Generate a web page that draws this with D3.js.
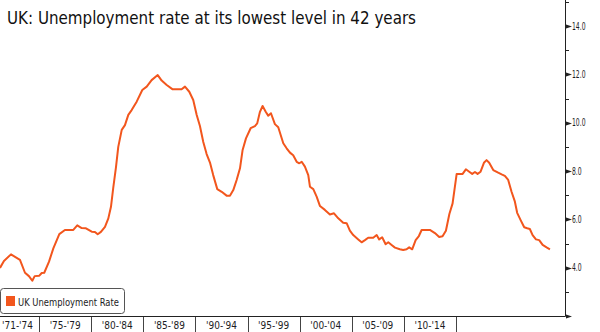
<!DOCTYPE html>
<html>
<head>
<meta charset="utf-8">
<script src="https://cdn.jsdelivr.net/npm/d3@7"></script>
<style>
  html, body { margin: 0; padding: 0; background: #fff; }
  svg { display: block; }
  text { font-family: "DejaVu Sans", "Liberation Sans", sans-serif; }
</style>
</head>
<body>
<svg id="chart" width="600" height="332"></svg>
<script>
// ---- data ----
const title = "UK: Unemployment rate at its lowest level in 42 years";
const seriesName = "UK Unemployment Rate";
const periodLabels = ["'71-'74", "'75-'79", "'80-'84", "'85-'89", "'90-'94", "'95-'99", "'00-'04", "'05-'09", "'10-'14"];
const yTickValues = [4, 6, 8, 10, 12, 14];
const yMinorValues = [3, 5, 7, 9, 11, 13, 15];
const years = [
  1971.00, 1971.33, 1971.92, 1972.67, 1973.09, 1973.42, 1973.70, 1973.90, 1974.29, 1974.49,
  1974.70, 1975.10, 1975.46, 1975.96, 1976.43, 1977.13, 1977.46, 1977.83, 1978.19, 1978.67,
  1978.94, 1979.17, 1979.44, 1979.78, 1980.06, 1980.28, 1980.47, 1980.70, 1980.89, 1981.18,
  1981.45, 1981.73, 1982.01, 1982.43, 1982.90, 1983.27, 1983.68, 1984.19, 1984.52, 1984.94,
  1985.44, 1986.19, 1986.47, 1986.83, 1987.16, 1987.45, 1987.72, 1988.00, 1988.28, 1988.56,
  1988.83, 1989.17, 1989.54, 1989.95, 1990.23, 1990.51, 1990.79, 1991.07, 1991.29, 1991.57,
  1991.96, 1992.32, 1992.51, 1992.74, 1992.96, 1993.22, 1993.43, 1993.66, 1993.99, 1994.27,
  1994.69, 1994.97, 1995.25, 1995.52, 1995.81, 1996.03, 1996.23, 1996.50, 1996.78, 1996.92,
  1997.20, 1997.48, 1997.76, 1998.17, 1998.59, 1998.93, 1999.29, 1999.70, 1999.99, 2000.26,
  2000.54, 2000.96, 2001.24, 2001.52, 2001.79, 2002.21, 2002.50, 2002.71, 2002.96, 2003.25,
  2003.47, 2003.75, 2004.03, 2004.44, 2004.72, 2005.00, 2005.22, 2005.47, 2005.76, 2006.03,
  2006.26, 2006.95, 2007.37, 2007.73, 2008.01, 2008.29, 2008.58, 2008.85, 2009.19, 2009.69,
  2009.96, 2010.24, 2010.49, 2010.72, 2010.94, 2011.19, 2011.47, 2011.69, 2011.91, 2012.25,
  2012.66, 2012.95, 2013.22, 2013.50, 2013.78, 2014.06, 2014.25, 2014.54, 2014.84, 2015.09,
  2015.31, 2015.54, 2015.82, 2016.09, 2016.38, 2016.71, 2016.99
];
const rates = [
  3.99, 4.28, 4.55, 4.32, 3.79, 3.65, 3.46, 3.65, 3.67, 3.78,
  3.79, 4.25, 4.80, 5.39, 5.56, 5.56, 5.75, 5.64, 5.63, 5.49,
  5.48, 5.38, 5.48, 5.69, 6.04, 6.52, 7.30, 8.16, 9.00, 9.70,
  9.90, 10.32, 10.52, 10.87, 11.35, 11.49, 11.76, 11.97, 11.74, 11.56,
  11.38, 11.38, 11.49, 11.28, 10.94, 10.32, 9.86, 9.20, 8.70, 8.35,
  7.83, 7.25, 7.14, 6.98, 6.98, 7.21, 7.63, 8.11, 8.87, 9.35,
  9.77, 9.86, 9.97, 10.45, 10.69, 10.45, 10.29, 10.39, 9.94, 9.81,
  9.15, 8.94, 8.76, 8.65, 8.38, 8.32, 8.38, 8.18, 7.83, 7.35,
  7.25, 6.94, 6.55, 6.39, 6.20, 6.25, 6.04, 5.86, 5.84, 5.53,
  5.35, 5.17, 5.05, 5.14, 5.24, 5.24, 5.35, 5.17, 5.26, 4.97,
  5.05, 4.94, 4.83, 4.76, 4.73, 4.76, 4.84, 4.76, 5.14, 5.31,
  5.56, 5.56, 5.43, 5.27, 5.30, 5.53, 6.22, 6.66, 7.88, 7.88,
  8.07, 7.97, 7.88, 7.96, 7.88, 7.97, 8.34, 8.45, 8.34, 8.04,
  7.93, 7.86, 7.80, 7.63, 7.14, 6.73, 6.27, 5.97, 5.67, 5.63,
  5.60, 5.35, 5.17, 5.14, 4.94, 4.84, 4.76
];

// ---- layout ----
const W = 600, H = 332;
const axisX = 565, axisBottom = 316;
const lineColor = "#F2561D";
const textColor = "#1c1c24";

// squeeze a text element horizontally to a given width (keeps glyph height)
function fitWidth(node, target) {
  node.setAttribute("textLength", target);
  node.setAttribute("lengthAdjust", "spacingAndGlyphs");
}

const svg = d3.select("#chart");
svg.append("rect").attr("width", W).attr("height", H).attr("fill", "#fff");

const x = d3.scaleLinear().domain([1971, 2018.25]).range([0, axisX]);
const y = d3.scaleLinear().domain([2, 14]).range([axisBottom, 26]);
const band = d3.scaleBand().domain(periodLabels).range([-13, 456]).padding(0);

// title
svg.append("text")
  .attr("x", 7).attr("y", 24)
  .attr("font-size", 18.5)
  .attr("fill", "#111")
  .text(title)
  .each(function() { fitWidth(this, 409); });

// line
const data = years.map((yr, i) => ({ yr, v: rates[i] }));
svg.append("path")
  .datum(data)
  .attr("fill", "none")
  .attr("stroke", lineColor)
  .attr("stroke-width", 2)
  .attr("stroke-linejoin", "round")
  .attr("d", d3.line().x(d => x(d.yr)).y(d => y(d.v)));

// right axis
const ax = svg.append("g");
ax.append("line").attr("x1", axisX + 0.5).attr("x2", axisX + 0.5)
  .attr("y1", 0).attr("y2", axisBottom + 0.5).attr("stroke", "#222").attr("stroke-width", 1);
ax.append("line").attr("x1", 0).attr("x2", axisX + 0.5)
  .attr("y1", axisBottom + 0.5).attr("y2", axisBottom + 0.5).attr("stroke", "#222").attr("stroke-width", 1);

const majors = [2].concat(yTickValues);
ax.selectAll("path.tri").data(majors).join("path")
  .attr("class", "tri")
  .attr("fill", "#222")
  .attr("d", v => {
    const yy = Math.round(y(v)) + 0.5;
    return `M${axisX + 1},${yy - 2}L${axisX + 7},${yy}L${axisX + 1},${yy + 2}Z`;
  });
ax.selectAll("line.minor").data(yMinorValues).join("line")
  .attr("class", "minor")
  .attr("x1", axisX + 1).attr("x2", axisX + 4)
  .attr("y1", v => Math.round(y(v)) + 0.5).attr("y2", v => Math.round(y(v)) + 0.5)
  .attr("stroke", "#222");
const yl = ax.selectAll("text.yl").data(yTickValues).join("text")
  .attr("class", "yl")
  .attr("x", axisX + 7).attr("y", v => y(v))
  .attr("dy", "0.35em")
  .attr("font-size", 10)
  .attr("fill", textColor)
  .text(v => d3.format(".1f")(v));
// narrow the labels so "14.0" is ~13.5px wide, as in the picture
const refW = yl.filter(v => v === 14).node().getComputedTextLength();
const k = 13.5 / refW;
yl.each(function() { fitWidth(this, this.getComputedTextLength() * k); });

// period labels & separators
const bx = svg.append("g");
const sepXs = periodLabels.slice(1).map(d => band(d)).concat([band.range()[1]]);
bx.selectAll("line.sep").data(sepXs).join("line")
  .attr("class", "sep")
  .attr("x1", d => Math.round(d) + 0.5)
  .attr("x2", d => Math.round(d) + 0.5)
  .attr("y1", axisBottom + 1).attr("y2", H)
  .attr("stroke", "#444");
bx.selectAll("text.pl").data(periodLabels).join("text")
  .attr("class", "pl")
  .attr("y", 329)
  .attr("font-size", 11)
  .attr("fill", textColor)
  .attr("text-anchor", "middle")
  .text(d => d)
  .each(function() { fitWidth(this, 31); })
  .attr("x", function(d) {
    const c = band(d) + band.bandwidth() / 2;
    return Math.max(c, 2 + 31 / 2);
  });

// legend
const lg = svg.append("g");
lg.append("rect").attr("x", 0.5).attr("y", 288.5).attr("width", 124).attr("height", 25)
  .attr("rx", 3).attr("ry", 3)
  .attr("fill", "#fff").attr("stroke", "#555");
lg.append("rect").attr("x", 6).attr("y", 296).attr("width", 9).attr("height", 10)
  .attr("fill", lineColor);
lg.append("text").attr("x", 18).attr("y", 305.5)
  .attr("font-size", 11).attr("fill", textColor)
  .text(seriesName)
  .each(function() { fitWidth(this, 101); });
</script>
</body>
</html>
